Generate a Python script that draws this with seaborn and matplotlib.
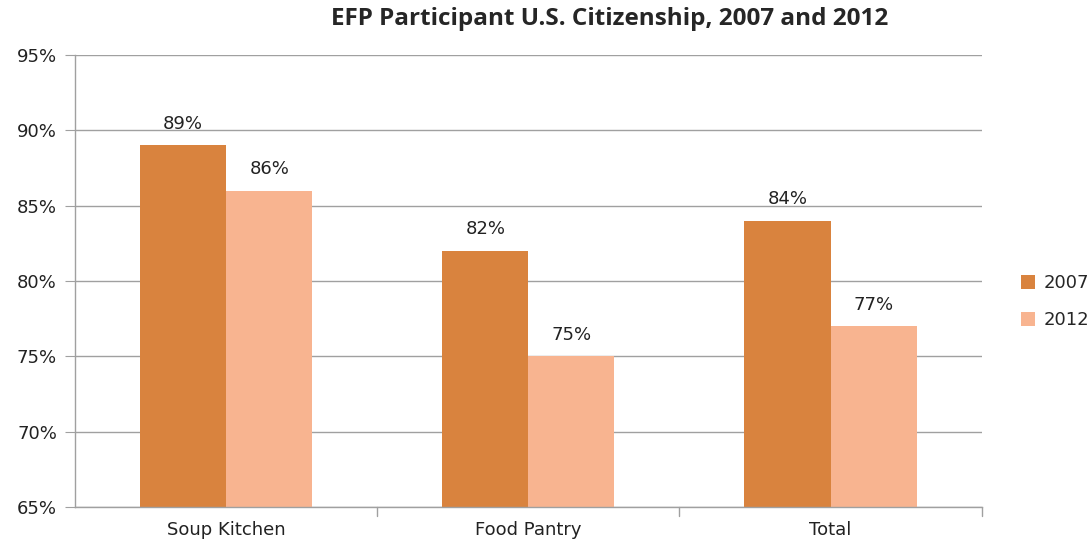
import pandas as pd
import seaborn as sns
import matplotlib.pyplot as plt

categories = ["Soup Kitchen", "Food Pantry", "Total"]
years = ["2007", "2012"]
pct_2007 = [89, 82, 84]
pct_2012 = [86, 75, 77]

df = pd.DataFrame({
    "category": categories * 2,
    "year": [years[0]] * 3 + [years[1]] * 3,
    "pct": pct_2007 + pct_2012,
})

sns.set_style("white")
plt.rcParams["font.family"] = ["DejaVu Sans"]

fig = plt.figure(figsize=(10.92, 5.5), dpi=100)
ax = fig.add_axes([0.0687, 0.078, 0.8303, 0.822])

colors = ["#D9833E", "#F8B490"]
sns.barplot(data=df, x="category", y="pct", hue="year", palette=colors,
            width=0.57, gap=0, ax=ax, saturation=1, linewidth=0)

ax.set_ylim(65, 95)
ax.set_xlim(-0.5, 2.5)
ax.set_yticks(range(65, 96, 5))
ax.set_yticklabels([f"{v}%" for v in range(65, 96, 5)], fontsize=13, color="#222222")
ax.tick_params(axis="x", labelsize=13, colors="#222222", length=0, pad=10)
ax.tick_params(axis="y", length=7, color="#A0A0A0", pad=6, direction="out", left=True)
ax.set_xlabel("")
ax.set_ylabel("")
ax.yaxis.grid(True, color="#A0A0A0", linewidth=1)
ax.set_axisbelow(True)
for side in ["top", "right"]:
    ax.spines[side].set_visible(False)
for side in ["left", "bottom"]:
    ax.spines[side].set_color("#A0A0A0")
    ax.spines[side].set_linewidth(1)

# category separator ticks on x axis
for xb in [0.5, 1.5, 2.5]:
    ax.plot([xb, xb], [65, 64.4], color="#A0A0A0", lw=1, clip_on=False)

for cont in ax.containers:
    ax.bar_label(cont, labels=[f"{v:.0f}%" for v in cont.datavalues],
                 padding=9, fontsize=13, color="#222222")

ax.legend(loc="center left", bbox_to_anchor=(1.025, 0.455), frameon=False,
          fontsize=13, handlelength=0.8, handleheight=0.8,
          labelspacing=1.05, handletextpad=0.5)

fig.text(0.558, 0.965, "EFP Participant U.S. Citizenship, 2007 and 2012",
         ha="center", va="center", fontsize=17.5, fontweight="bold",
         family="Open Sans")

fig.savefig("out.png", dpi=100)
